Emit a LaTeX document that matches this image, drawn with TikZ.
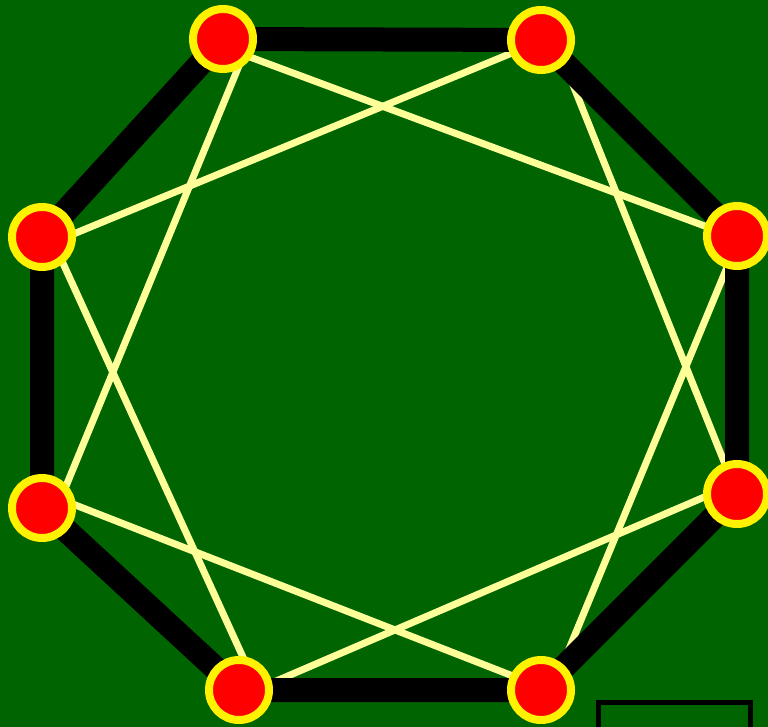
\documentclass[tikz,border=0pt]{standalone}
\usepackage{xcolor}
\definecolor{fieldgreen}{HTML}{006400}
\definecolor{paleyellow}{HTML}{FFFF99}
\pgfdeclarelayer{field}
\pgfdeclarelayer{chords}
\pgfdeclarelayer{rims}
\pgfsetlayers{field,chords,rims,main}
\begin{document}
\begin{tikzpicture}[x=1pt,y=-1pt,
  vertex/.style={circle,draw=yellow,fill=red,line width=8pt,
    minimum size=60pt,inner sep=0pt},
  rim/.style={line width=24pt,black},
  chord/.style={line width=7pt,paleyellow},
  frame/.style={draw=black,line width=5pt}]
  \useasboundingbox (0,0) rectangle (768,727);
  \clip (0,0) rectangle (768,727);
  \begin{pgfonlayer}{field}
    \fill[fieldgreen] (0,0) rectangle (768,727);
  \end{pgfonlayer}
  % vertices, clockwise from top left
  \node[vertex] (a) at (223,39) {};
  \node[vertex] (b) at (541,40) {};
  \node[vertex] (c) at (737,236) {};
  \node[vertex] (d) at (737,494) {};
  \node[vertex] (e) at (541,690) {};
  \node[vertex] (f) at (239,690) {};
  \node[vertex] (g) at (42,508) {};
  \node[vertex] (h) at (42,237) {};
  \begin{pgfonlayer}{rims}
    \draw[rim] (a.center) -- (b.center) -- (c.center) -- (d.center)
      -- (e.center) -- (f.center) -- (g.center) -- (h.center) -- cycle;
  \end{pgfonlayer}
  % chords end a little off the vertex centres
  \begin{pgfonlayer}{chords}
    \draw[chord] ([shift={(0,8)}]a.center) -- ([shift={(0,2)}]c.center);
    \draw[chord] ([shift={(3,0)}]c.center) -- ([shift={(11,0)}]e.center);
    \draw[chord] ([shift={(0,-3)}]e.center) -- ([shift={(0,-16)}]g.center);
    \draw[chord] ([shift={(15,0)}]g.center) -- ([shift={(27,0)}]a.center);
    \draw[chord] ([shift={(14,0)}]b.center) -- (d.center);
    \draw[chord] ([shift={(0,-11)}]d.center) -- ([shift={(0,7)}]f.center);
    \draw[chord] ([shift={(19,0)}]f.center) -- ([shift={(9,0)}]h.center);
    \draw[chord] ([shift={(0,10)}]h.center) -- ([shift={(0,1)}]b.center);
  \end{pgfonlayer}
  \draw[frame] (598.5,702.5) rectangle (750.5,740);
\end{tikzpicture}
\end{document}
